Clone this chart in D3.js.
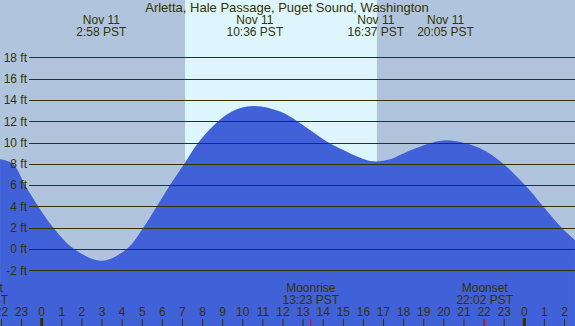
<!DOCTYPE html>
<html>
<head>
<meta charset="utf-8">
<script src="https://cdn.jsdelivr.net/npm/d3@7"></script>
<style>
  html, body { margin: 0; padding: 0; background: #b0c4de; }
  svg { display: block; }
  text { font-family: "Liberation Sans", Arial, sans-serif; fill: #333300; }
</style>
</head>
<body>
<svg id="chart" width="575" height="326"></svg>
<script>
// station title
const title = 'Arletta, Hale Passage, Puget Sound, Washington';

// tide curve (hours from midnight Nov 11, feet)
const tideHours = [-2.07, -1.43, -0.83, -0.17, 0.58, 1.61, 2.98, 4.23, 5.05, 5.72, 6.38, 7.09, 7.79, 8.78, 9.61, 10.6, 11.85, 12.71, 13.34, 14.25, 15.0, 15.83, 16.49, 17.32, 17.82, 18.81, 20.14, 21.8, 22.95, 24.03, 24.94, 25.86, 26.52];
const tideFeet = [8.42, 8, 6, 4, 2, 0, -1.1, 0, 2, 4, 6, 8, 10, 12, 13.05, 13.43, 12.9, 12, 11.17, 10, 9.3, 8.57, 8.23, 8.42, 8.83, 9.6, 10.2, 9.45, 8, 6, 4, 2, 0.85];

// high / low labels along the top
const extremeHours = [2.967, 10.6, 16.617, 20.083];
const extremeDates = ['Nov 11', 'Nov 11', 'Nov 11', 'Nov 11'];
const extremeTimes = ['2:58 PST', '10:36 PST', '16:37 PST', '20:05 PST'];

// daylight (sunrise, sunset)
const dayStart = [7.13];
const dayEnd = [16.67];

// moon events
const moonHours = [-3.08, 13.383, 22.033];
const moonNames = ['Moonset', 'Moonrise', 'Moonset'];
const moonTimes = ['20:55 PST', '13:23 PST', '22:02 PST'];

// y axis ticks (ft) and hour ticks
const feetTicks = [-2, 0, 2, 4, 6, 8, 10, 12, 14, 16, 18];
const hourTicks = d3.range(-2, 27);

let svg = d3.select('#chart'),
    width = +svg.attr('width'),
    height = +svg.attr('height');

let x = d3.scaleLinear().domain([0, 24]).range([41.7, 524.3]);
let y = d3.scaleLinear().domain([-2, 18]).range([270.3, 57.3]);

// night background
svg.append('rect')
    .attr('x', 0).attr('y', 0)
    .attr('width', width).attr('height', height)
    .attr('fill', '#b0c4de');

// daylight band
svg.selectAll('.day')
    .data(dayStart)
    .enter().append('rect')
    .attr('class', 'day')
    .attr('x', function (d) { return x(d); })
    .attr('y', 0)
    .attr('width', function (d, i) { return x(dayEnd[i]) - x(d); })
    .attr('height', height)
    .attr('fill', '#ddf6fe');

// water
let tide = tideHours.map(function (h, i) { return [h, tideFeet[i]]; });
let area = d3.area()
    .x(function (d) { return x(d[0]); })
    .y0(height)
    .y1(function (d) { return y(d[1]); })
    .curve(d3.curveCatmullRom.alpha(0.5));

svg.append('path')
    .datum(tide)
    .attr('d', area)
    .attr('fill', '#4161d8');

// grid lines + ft labels
let grid = svg.append('g');
grid.selectAll('line')
    .data(feetTicks)
    .enter().append('line')
    .attr('x1', 29).attr('x2', width)
    .attr('y1', function (d) { return Math.round(y(d)) + 0.5; })
    .attr('y2', function (d) { return Math.round(y(d)) + 0.5; })
    .attr('stroke', '#333300')
    .attr('stroke-width', 1);
grid.selectAll('text')
    .data(feetTicks)
    .enter().append('text')
    .attr('x', 27)
    .attr('y', function (d) { return y(d) + 4.3; })
    .attr('text-anchor', 'end')
    .attr('font-size', 12)
    .text(function (d) { return d + ' ft'; });

// title
svg.append('text')
    .attr('x', 287).attr('y', 12)
    .attr('text-anchor', 'middle')
    .attr('font-size', 13)
    .text(title);

// high / low labels
let ext = svg.selectAll('.ext')
    .data(extremeHours)
    .enter().append('g')
    .attr('class', 'ext')
    .attr('transform', function (d) { return 'translate(' + x(d) + ',0)'; });
ext.append('text')
    .attr('y', 24)
    .attr('text-anchor', 'middle')
    .attr('font-size', 12)
    .text(function (d, i) { return extremeDates[i]; });
ext.append('text')
    .attr('y', 36)
    .attr('text-anchor', 'middle')
    .attr('font-size', 12)
    .text(function (d, i) { return extremeTimes[i]; });

// moon labels
let moon = svg.selectAll('.moon')
    .data(moonHours)
    .enter().append('g')
    .attr('class', 'moon')
    .attr('transform', function (d) { return 'translate(' + x(d) + ',0)'; });
moon.append('text')
    .attr('y', 292)
    .attr('text-anchor', 'middle')
    .attr('font-size', 12)
    .text(function (d, i) { return moonNames[i]; });
moon.append('text')
    .attr('y', 303.5)
    .attr('text-anchor', 'middle')
    .attr('font-size', 12)
    .text(function (d, i) { return moonTimes[i]; });

// hour axis
let hours = svg.selectAll('.hour')
    .data(hourTicks)
    .enter().append('g')
    .attr('class', 'hour')
    .attr('transform', function (d) { return 'translate(' + x(d) + ',0)'; });
hours.append('text')
    .attr('y', 316)
    .attr('text-anchor', 'middle')
    .attr('font-size', 12)
    .text(function (d) { return (d + 24) % 24; });
hours.append('line')
    .attr('y1', function (d) { return d % 24 === 0 ? 318 : 319; })
    .attr('y2', height)
    .attr('stroke', '#333300')
    .attr('stroke-width', function (d) { return d % 24 === 0 ? 3 : 1; });

svg.selectAll('.moontick')
    .data(moonHours)
    .enter().append('line')
    .attr('class', 'moontick')
    .attr('x1', function (d) { return x(d); })
    .attr('x2', function (d) { return x(d); })
    .attr('y1', 319).attr('y2', height)
    .attr('stroke', '#ff0000')
    .attr('stroke-width', 1);
</script>
</body>
</html>
